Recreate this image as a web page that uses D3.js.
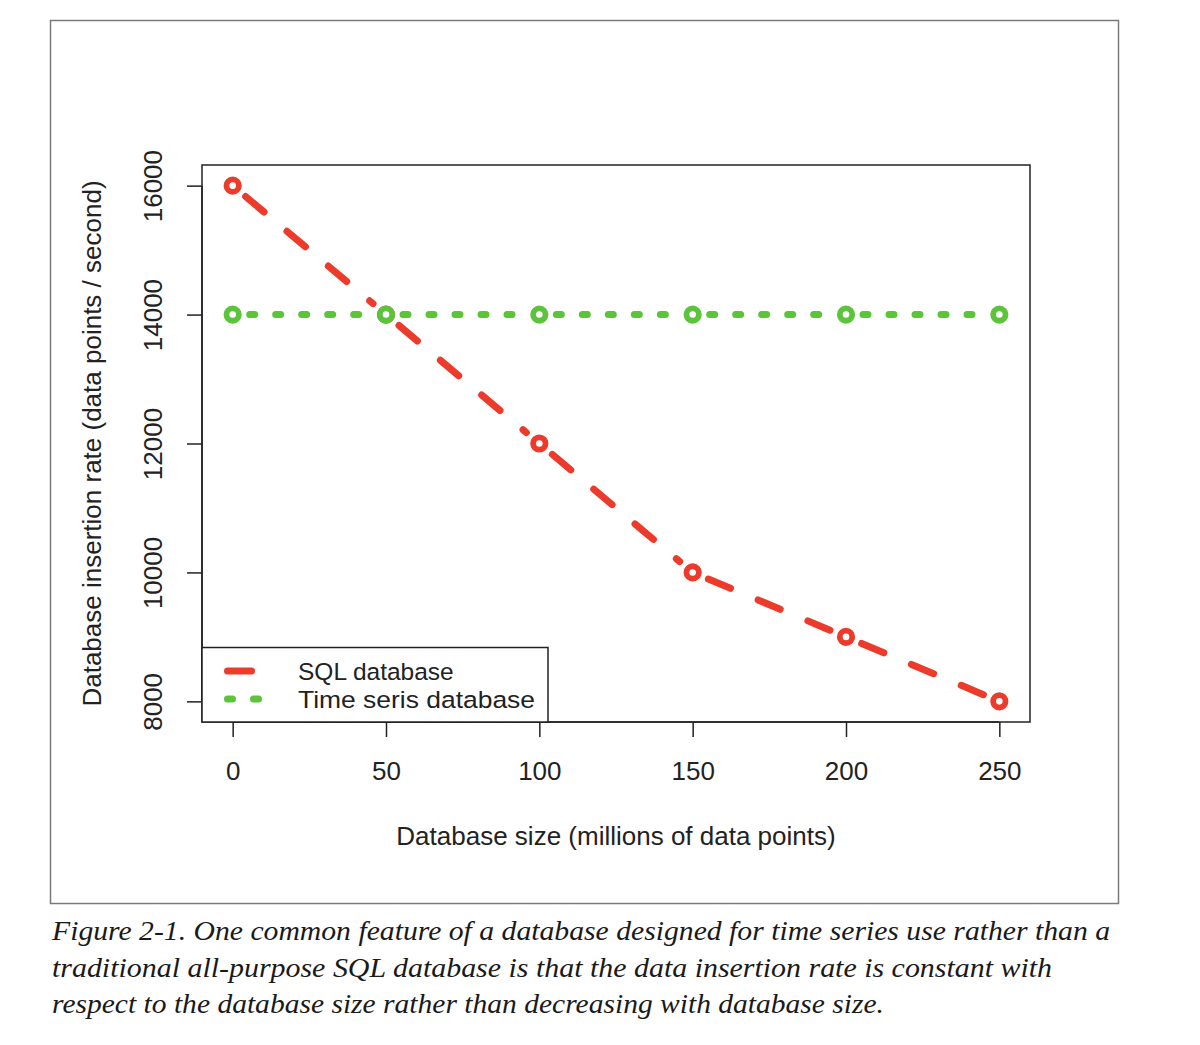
<!DOCTYPE html>
<html>
<head>
<meta charset="utf-8">
<script src="https://cdn.jsdelivr.net/npm/d3@7"></script>
<style>
  html, body { margin: 0; padding: 0; background: #fff; }
  svg { display: block; }
</style>
</head>
<body>
<div id="chart"></div>
<script>
// ---- data ----
const sizes = [0, 50, 100, 150, 200, 250];
const sqlRates = [16000, 14000, 12000, 10000, 9000, 8000];
const tsRates = [14000, 14000, 14000, 14000, 14000, 14000];
const xTicks = [0, 50, 100, 150, 200, 250];
const yTicks = [8000, 10000, 12000, 14000, 16000];
const seriesNames = ["SQL database", "Time seris database"];
const xTitle = "Database size (millions of data points)";
const yTitle = "Database insertion rate (data points / second)";
const captionLines = [
  "Figure 2-1. One common feature of a database designed for time series use rather than a",
  "traditional all-purpose SQL database is that the data insertion rate is constant with",
  "respect to the database size rather than decreasing with database size."
];

// ---- layout ----
const W = 1200, H = 1045;
const RED = "#ec3b2a", GREEN = "#5bc43b";
const sansFont = "'Liberation Sans', Arial, Helvetica, sans-serif";
const serifFont = "'Liberation Serif', 'DejaVu Serif', serif";
const RED_DASH = "24 30", GREEN_DASH = "5 21";

const svg = d3.select("#chart").append("svg")
  .attr("width", W).attr("height", H);

// outer frame
svg.append("rect")
  .attr("x", 50.5).attr("y", 20.5).attr("width", 1068).attr("height", 883)
  .attr("fill", "none").attr("stroke", "#7a7a7a").attr("stroke-width", 1.5);

// scales (R style 4% padding)
const x = d3.scaleLinear().domain([-10, 260]).range([202, 1030]);
const y = d3.scaleLinear().domain([7680, 16320]).range([722, 165]);

// plot box
svg.append("rect")
  .attr("x", x(-10)).attr("y", y(16320))
  .attr("width", x(260) - x(-10)).attr("height", y(7680) - y(16320))
  .attr("fill", "none").attr("stroke", "#222").attr("stroke-width", 1.5);

// x axis
const xAxis = svg.append("g")
  .attr("transform", `translate(0,${y(7680)})`)
  .call(d3.axisBottom(x).tickValues(xTicks).tickSize(15).tickPadding(25).tickFormat(d3.format("d")));
xAxis.select(".domain").attr("d", `M${x(0)},0H${x(250)}`).attr("stroke", "#222").attr("stroke-width", 1.5);
xAxis.selectAll(".tick line").attr("stroke", "#222").attr("stroke-width", 1.5);
xAxis.selectAll(".tick text").attr("font-family", sansFont).attr("font-size", 26).attr("fill", "#222");

// y axis
const yAxis = svg.append("g")
  .attr("transform", `translate(${x(-10)},0)`)
  .call(d3.axisLeft(y).tickValues(yTicks).tickSize(15).tickFormat(d3.format("d")));
yAxis.select(".domain").attr("d", `M0,${y(8000)}V${y(16000)}`).attr("stroke", "#222").attr("stroke-width", 1.5);
yAxis.selectAll(".tick line").attr("stroke", "#222").attr("stroke-width", 1.5);
yAxis.selectAll(".tick text")
  .attr("font-family", sansFont).attr("font-size", 26).attr("fill", "#222")
  .attr("x", null).attr("dy", null)
  .attr("text-anchor", "middle")
  .attr("transform", "translate(-40,0) rotate(-90)");

// axis titles
svg.append("text")
  .attr("x", (x(0) + x(250)) / 2).attr("y", 845)
  .attr("text-anchor", "middle")
  .attr("font-family", sansFont).attr("font-size", 26).attr("fill", "#222")
  .text(xTitle);
svg.append("text")
  .attr("transform", `translate(101,${(y(8000) + y(16000)) / 2}) rotate(-90)`)
  .attr("text-anchor", "middle")
  .attr("font-family", sansFont).attr("font-size", 26).attr("fill", "#222")
  .text(yTitle);

// series drawing (R type "b": gaps around points, dash restarts per segment)
function drawSeries(vals, color, dash, width) {
  const pts = sizes.map((s, i) => [x(s), y(vals[i])]);
  const g = svg.append("g");
  const gap = 17;
  for (let i = 0; i < pts.length - 1; i++) {
    const [x0, y0] = pts[i], [x1, y1] = pts[i + 1];
    const L = Math.hypot(x1 - x0, y1 - y0);
    const ux = (x1 - x0) / L, uy = (y1 - y0) / L;
    g.append("line")
      .attr("x1", x0 + ux * gap).attr("y1", y0 + uy * gap)
      .attr("x2", x1 - ux * gap).attr("y2", y1 - uy * gap)
      .attr("stroke", color).attr("stroke-width", width)
      .attr("stroke-linecap", "round")
      .attr("stroke-dasharray", dash);
  }
  g.selectAll("circle").data(pts).join("circle")
    .attr("cx", d => d[0]).attr("cy", d => d[1])
    .attr("r", 6.2).attr("fill", "#fff")
    .attr("stroke", color).attr("stroke-width", 5.8);
}
drawSeries(sqlRates, RED, RED_DASH, 7);
drawSeries(tsRates, GREEN, GREEN_DASH, 7);

// legend
const lg = svg.append("g");
lg.append("rect")
  .attr("x", x(-10)).attr("y", 647.5).attr("width", 346).attr("height", y(7680) - 647.5)
  .attr("fill", "#fff").attr("stroke", "#222").attr("stroke-width", 1.5);
const legendItems = [
  { name: seriesNames[0], color: RED, dash: RED_DASH, yy: 671 },
  { name: seriesNames[1], color: GREEN, dash: GREEN_DASH, yy: 699 }
];
legendItems.forEach(it => {
  lg.append("line")
    .attr("x1", 227.5).attr("x2", 258.5).attr("y1", it.yy).attr("y2", it.yy)
    .attr("stroke", it.color).attr("stroke-width", 7)
    .attr("stroke-linecap", "round").attr("stroke-dasharray", it.dash);
  lg.append("text")
    .attr("x", 298).attr("y", it.yy + 9)
    .attr("font-family", sansFont).attr("font-size", 24.5).attr("fill", "#222")
    .attr("textLength", it.name === seriesNames[1] ? 237 : null)
    .attr("lengthAdjust", "spacingAndGlyphs")
    .text(it.name);
});

// caption
const capWidths = [1058, 1000, 832];
captionLines.forEach((t, i) => {
  svg.append("text")
    .attr("x", 52).attr("y", 940 + i * 36.5)
    .attr("font-family", serifFont).attr("font-style", "italic")
    .attr("font-size", 27).attr("fill", "#1a1a1a")
    .attr("textLength", capWidths[i]).attr("lengthAdjust", "spacingAndGlyphs")
    .text(t);
});
</script>
</body>
</html>
